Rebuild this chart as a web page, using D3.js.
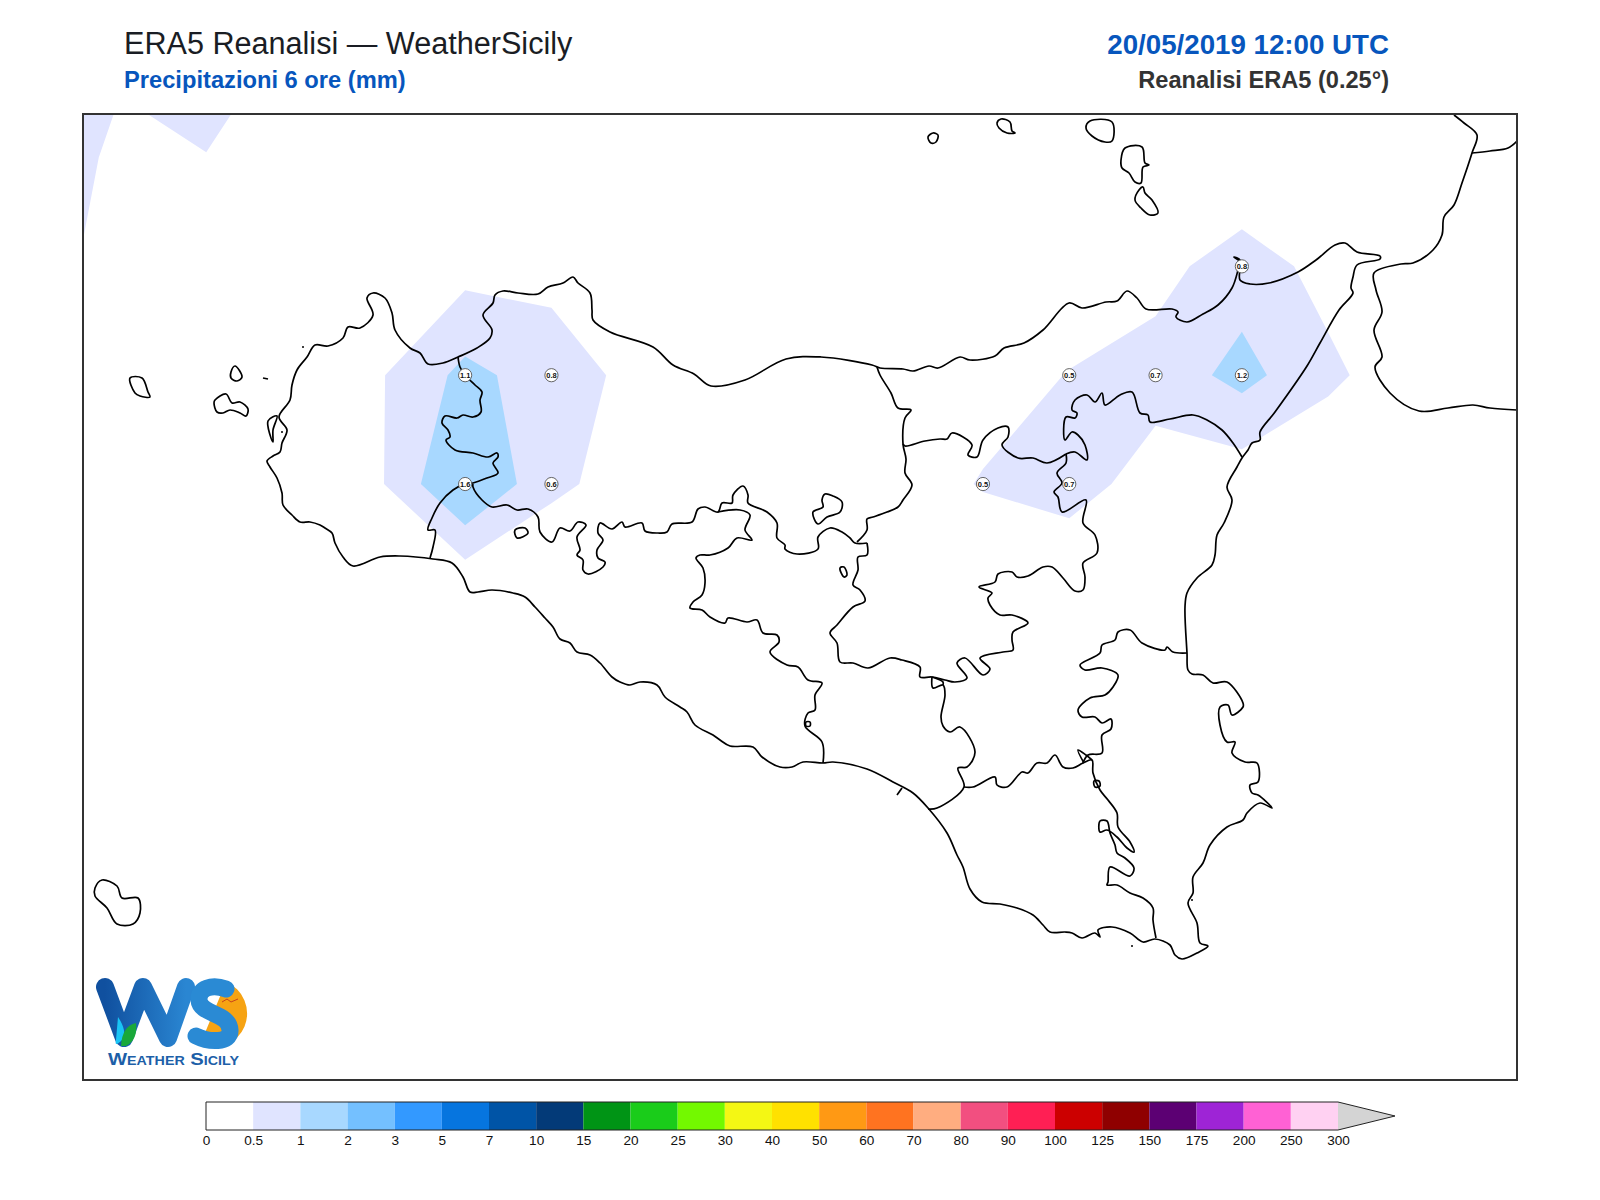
<!DOCTYPE html>
<html>
<head>
<meta charset="utf-8">
<script src="https://cdn.jsdelivr.net/npm/d3@7"></script>
<style>
  html, body { margin: 0; padding: 0; background: #fff; }
  svg { display: block; }
  text { font-family: "Liberation Sans", Arial, sans-serif; }
</style>
</head>
<body>
<script>
// ERA5 0.25 degree grid, 6h precipitation in mm
var gridLons = [11.75, 12, 12.25, 12.5, 12.75, 13, 13.25, 13.5, 13.75, 14, 14.25, 14.5, 14.75, 15, 15.25, 15.5, 15.75];
var gridLats = [38.75, 38.5, 38.25, 38, 37.75, 37.5];
var rain3875 = [0.9, 0.6, 0.9, 0.39, 0.1, 0.05, 0.05, 0, 0, 0, 0, 0, 0, 0, 0, 0, 0];
var rain3850 = [0.9, 0.37, 0.48, 0.2, 0.1, 0.1, 0.1, 0, 0, 0, 0, 0, 0, 0.05, 0, 0, 0];
var rain3825 = [0.7, 0.31, 0.2, 0.1, 0.2, 0.32, 0.34, 0.15, 0, 0, 0, 0.05, 0.15, 0.33, 0.76, 0.33, 0.1];
var rain3800 = [0.3, 0.2, 0.1, 0.1, 0.45, 1.14, 0.76, 0.35, 0.1, 0, 0.05, 0.25, 0.52, 0.7, 1.16, 0.61, 0.17];
var rain3775 = [0.1, 0.05, 0, 0, 0.43, 1.6, 0.6, 0.29, 0.05, 0, 0.17, 0.54, 0.72, 0.27, 0.19, 0.05, 0];
var rain3750 = [0, 0, 0, 0, 0.1, 0.02, 0.03, 0, 0, 0, 0, 0, 0.02, 0, 0, 0, 0];

// labelled land points
var labelLons = [13, 13.25, 13, 13.25, 15.25, 14.75, 15, 15.25, 14.5, 14.75];
var labelLats = [38, 38, 37.75, 37.75, 38.25, 38, 38, 38, 37.75, 37.75];
var labelVals = [1.1, 0.8, 1.6, 0.6, 0.8, 0.5, 0.7, 1.2, 0.5, 0.7];

// colour bar
var levels = ["0", "0.5", "1", "2", "3", "5", "7", "10", "15", "20", "25", "30", "40", "50", "60", "70", "80", "90", "100", "125", "150", "175", "200", "250", "300"];
var levelColors = ["#ffffff", "#e0e4ff", "#a8d8ff", "#74c0ff", "#3399ff", "#0675df", "#0054a6", "#033a78", "#009415", "#1acc1a", "#73f900", "#f4f714", "#ffe100", "#ff9914", "#ff7320", "#ffad80", "#f24f80", "#ff1f54", "#cc0000", "#8f0000", "#5c0073", "#9e24d6", "#ff61d4", "#ffd1f2"];
var overColor = "#d4d4d4";

// basemap outlines, digitised in basemap units
var coastSicily = [[353,566],[343,557],[335,543],[332,533],[325,528],[320,525],[310,522],[300,522],[292,515],[283,505],[282,493],[277,478],[270,467],[267,461],[273,456],[280,452],[282,443],[287,430],[279,417],[290,400],[292,385],[297,370],[307,357],[315,345],[328,346],[343,338],[348,327],[360,328],[373,315],[367,298],[373,293],[385,298],[392,313],[395,330],[410,348],[420,353],[428,364],[443,363],[458,357],[477,348],[490,338],[492,330],[483,315],[493,303],[495,295],[503,291],[518,293],[538,294],[548,287],[563,283],[573,277],[578,283],[590,293],[592,310],[593,320],[610,332],[653,347],[673,365],[694,374],[711,386],[745,380],[786,359],[821,357],[872,365],[880,368],[903,369],[913,371],[929,366],[938,368],[960,357],[970,360],[995,356],[1004,348],[1024,343],[1043,330],[1069,303],[1082,308],[1106,302],[1117,301],[1127,291],[1137,298],[1146,309],[1172,309],[1178,312],[1176,317],[1187,322],[1203,314],[1218,305],[1232,288],[1238,270],[1240,260],[1234,257],[1240,262],[1240,280],[1250,284],[1269,283],[1298,272],[1316,260],[1335,245],[1345,243],[1357,252],[1380,256],[1380,259],[1357,265],[1353,277],[1351,288],[1353,293],[1339,310],[1320,343],[1307,366],[1275,412],[1260,432],[1260,440],[1252,443],[1248,450],[1242,458],[1237,467],[1227,487],[1232,500],[1224,523],[1217,535],[1215,555],[1212,565],[1197,578],[1187,593],[1185,607],[1187,653],[1188,670],[1192,674],[1203,675],[1213,683],[1227,682],[1243,703],[1243,707],[1232,715],[1228,705],[1220,707],[1220,725],[1227,742],[1235,742],[1232,753],[1245,762],[1257,763],[1258,782],[1250,785],[1252,793],[1258,795],[1272,808],[1260,803],[1247,813],[1243,820],[1227,827],[1210,845],[1203,863],[1193,877],[1193,893],[1188,903],[1197,923],[1200,943],[1208,946],[1197,953],[1182,959],[1175,955],[1170,945],[1155,939],[1143,942],[1130,933],[1112,927],[1098,930],[1100,937],[1095,933],[1082,938],[1072,933],[1065,932],[1050,932],[1043,925],[1033,915],[1017,908],[1000,904],[982,902],[970,889],[963,867],[957,855],[947,833],[928,808],[913,793],[893,782],[867,769],[833,762],[823,763],[803,762],[792,767],[780,767],[762,757],[753,747],[730,746],[720,740],[713,735],[695,725],[687,712],[680,707],[665,697],[657,685],[640,682],[630,685],[620,682],[612,677],[600,663],[590,655],[577,652],[570,643],[560,639],[553,627],[545,618],[535,607],[525,597],[513,593],[492,590],[478,592],[470,592],[463,577],[452,563],[433,559],[400,556],[380,557],[353,566]];
var borderTrapaniPalermo = [[458,357],[460,367],[465,375],[475,385],[482,392],[480,400],[481,412],[473,417],[463,415],[457,418],[445,416],[442,423],[448,430],[450,437],[446,440],[455,450],[473,453],[488,457],[497,453],[498,457],[493,463],[498,473],[487,478],[473,483],[465,484],[453,490],[440,503],[432,518],[428,530],[435,530],[433,547],[430,558]];
var borderPalermoAgrigento = [[473,484],[473,487],[482,500],[492,507],[507,505],[517,510],[528,509],[538,517],[540,532],[552,542],[560,528],[570,531],[578,522],[586,525],[577,537],[580,550],[577,555],[583,560],[583,570],[588,574],[603,567],[605,562],[598,558],[597,550],[603,540],[598,533],[600,523],[612,529],[622,522],[625,527],[642,523],[645,531],[658,533],[667,532],[672,524],[692,522],[698,509],[705,507],[718,512],[722,503],[732,503],[733,495],[743,486],[748,495],[748,503],[767,512],[777,523],[777,538],[785,545],[785,549],[797,554],[818,549],[818,537],[830,528],[842,532],[850,538],[855,543],[867,543]];
var borderPalermoMessina = [[877,367],[880,375],[891,393],[898,408],[911,410],[905,418],[903,444],[906,459],[905,473],[912,485],[903,500],[898,507],[887,512],[873,517],[867,519],[867,530],[857,542]];
var borderEnnaWest = [[718,512],[740,510],[750,515],[745,530],[752,540],[737,538],[728,548],[710,555],[700,555],[696,558],[703,568],[705,583],[702,595],[693,602],[690,608],[702,610],[710,617],[725,623],[728,618],[747,622],[757,620],[763,633],[777,635],[779,642],[770,652],[787,665],[798,667],[808,680],[822,683],[815,695],[815,710],[808,713],[805,726],[822,742],[823,763]];
var borderEnnaSouth = [[867,543],[867,555],[858,557],[858,570],[853,585],[860,590],[865,601],[853,607],[837,625],[830,633],[837,643],[840,662],[853,663],[868,668],[890,658],[902,660],[920,667],[920,677],[932,677],[945,680],[955,682],[967,678],[957,663],[965,658],[983,675],[990,669],[980,658],[1003,652],[1013,650],[1012,640],[1013,632],[1028,623],[1012,615],[1000,615],[990,605],[988,598],[992,593],[979,587],[995,582],[998,574],[1012,572],[1017,577],[1028,576],[1043,567],[1052,567],[1063,578],[1075,591],[1083,590],[1085,577],[1083,563],[1097,553],[1095,535],[1083,523],[1086,500],[1062,512],[1058,497],[1054,492],[1062,483],[1057,473],[1066,463],[1066,454]];
var borderMessinaCatania = [[1066,454],[1075,452],[1087,460],[1085,445],[1078,435],[1072,432],[1065,440],[1066,417],[1075,418],[1077,413],[1072,410],[1075,400],[1087,395],[1095,402],[1102,393],[1105,405],[1120,395],[1132,392],[1140,413],[1148,415],[1150,422],[1170,419],[1193,415],[1207,420],[1222,430],[1233,443],[1242,457]];
var borderEnnaNorth = [[1066,454],[1047,463],[1033,458],[1018,458],[1002,445],[1008,437],[1008,427],[998,428],[983,440],[977,457],[968,455],[972,445],[952,433],[947,439],[940,439],[925,441],[905,446],[903,444]];
var borderCaltanissetta = [[932,677],[933,688],[943,685],[945,695],[941,717],[943,726],[950,732],[960,727],[975,752],[967,767],[958,768],[964,787],[937,808],[928,809]];
var borderEnnaTriangle = [[932,677],[943,682],[943,685]];
var borderRagusa = [[964,787],[973,787],[995,777],[997,785],[1007,787],[1022,772],[1028,773],[1037,763],[1047,763],[1055,755],[1063,767],[1073,768],[1083,763],[1092,760],[1093,773],[1100,790],[1108,800],[1117,813],[1118,827],[1130,842],[1134,852],[1127,848],[1117,837],[1107,830],[1100,832],[1100,821],[1107,821],[1110,833],[1115,845],[1117,853],[1125,858],[1134,868],[1130,876],[1110,867],[1108,882],[1107,885],[1117,885],[1130,893],[1143,898],[1153,908],[1153,920],[1156,938]];
var borderCataniaSouth = [[1187,653],[1173,652],[1167,647],[1165,650],[1142,643],[1130,630],[1118,632],[1115,640],[1102,645],[1100,653],[1080,665],[1085,670],[1102,668],[1118,675],[1113,687],[1105,695],[1090,698],[1078,710],[1082,717],[1095,717],[1102,723],[1111,719],[1111,729],[1102,735],[1102,753],[1088,755],[1083,763]];
var borderTriangle = [[1092,760],[1086,755],[1078,750],[1084,763]];
var shoreTick = [[897,795],[902,788]];
var marettimo = [[130,378],[142,378],[148,392],[150,397],[140,396],[135,393],[130,378]];
var favignana = [[215,400],[226,394],[232,403],[240,402],[248,409],[246,416],[240,413],[230,410],[223,413],[217,412],[214,403],[215,400]];
var levanzo = [[235,366],[242,377],[237,381],[231,378],[231,372],[235,366]];
var stagnone = [[268,421],[277,416],[273,430],[273,442],[268,421]];
var formica = [[263,378],[268,379]];
var alicudi = [[928,137],[933,133],[938,135],[936,142],[931,143],[928,137]];
var filicudi = [[997,123],[1001,119],[1010,122],[1012,131],[1015,133],[1007,133],[999,128],[997,123]];
var salina = [[1086,128],[1090,121],[1112,122],[1112,141],[1105,142],[1092,136],[1086,128]];
var lipari = [[1121,160],[1125,148],[1142,147],[1145,163],[1149,165],[1143,167],[1141,183],[1135,182],[1129,173],[1122,168],[1121,160]];
var vulcano = [[1139,190],[1143,187],[1145,193],[1152,200],[1158,213],[1150,215],[1141,208],[1135,200],[1139,190]];
var pantelleria = [[95,888],[102,880],[117,886],[122,898],[138,898],[140,913],[133,924],[117,924],[107,908],[95,896],[95,888]];
var lakeArancio = [[515,530],[525,528],[528,533],[517,538],[515,530]];
var lakePozzillo = [[840,568],[844,567],[847,575],[844,577],[840,568]];
var lakeNorth = [[825,494],[833,496],[842,502],[840,512],[827,517],[818,524],[813,512],[823,507],[822,500],[825,494]];
var lakeSouth = [[1094,781],[1099,781],[1100,786],[1095,787],[1094,781]];
var lakeWest = [[806,722],[810,722],[810,726],[806,726],[806,722]];
var calabriaSouth = [[1454,115],[1464,123],[1477,135],[1472,153],[1462,183],[1454,205],[1444,217],[1442,235],[1433,250],[1413,263],[1401,264],[1374,273],[1376,290],[1382,312],[1374,330],[1382,357],[1375,367],[1390,393],[1419,411],[1448,408],[1473,405],[1490,408],[1517,410]];
var calabriaNorth = [[1472,153],[1490,151],[1508,148],[1517,141]];
var outlines = [coastSicily, borderTrapaniPalermo, borderPalermoAgrigento, borderPalermoMessina, borderEnnaWest, borderEnnaSouth, borderMessinaCatania, borderEnnaNorth, borderCaltanissetta, borderEnnaTriangle, borderRagusa, borderCataniaSouth, borderTriangle, shoreTick, marettimo, favignana, levanzo, stagnone, formica, alicudi, filicudi, salina, lipari, vulcano, pantelleria, lakeArancio, lakePozzillo, lakeNorth, lakeSouth, lakeWest, calabriaSouth, calabriaNorth];
var tinyIslands = [[303,347],[282,432],[1132,946],[1192,900]];

var w = 1600;
var h = 1200;
var frame = { left: 83, right: 1517, top: 114, bottom: 1080 };

var svg = d3.select("body").append("svg").attr("width", w).attr("height", h);

// scales
var lonX = d3.scaleLinear().domain([11.893, 16.047]).range([frame.left, frame.right]);
var latY = d3.scaleLinear().domain([38.6, 36.381]).range([frame.top, frame.bottom]);
var mapX = d3.scaleLinear().domain([83, 1517]).range([frame.left, frame.right]);
var mapY = d3.scaleLinear().domain([114, 1080]).range([frame.top, frame.bottom]);
var levelNumbers = levels.map(Number);
var colorOf = d3.scaleThreshold().domain(levelNumbers.slice(1, -1)).range(levelColors);

svg.append("clipPath").attr("id", "mapClip").append("rect")
   .attr("x", frame.left).attr("y", frame.top)
   .attr("width", frame.right - frame.left).attr("height", frame.bottom - frame.top);

var map = svg.append("g").attr("clip-path", "url(#mapClip)");

// filled contours of the grid
var rainValues = [].concat(rain3875, rain3850, rain3825, rain3800, rain3775, rain3750);
var contours = d3.contours()
   .size([gridLons.length, gridLats.length])
   .smooth(true)
   .thresholds([0.5, 1])(rainValues);

// contour coords: grid cell i has its centre at i + 0.5
var gridPath = d3.geoPath(d3.geoTransform({
  point: function(cx, cy) {
    var lon = gridLons[0] + (cx - 0.5) * (gridLons[1] - gridLons[0]);
    var lat = gridLats[0] + (cy - 0.5) * (gridLats[1] - gridLats[0]);
    this.stream.point(lonX(lon), latY(lat));
  }
}));

map.selectAll("path.rain")
   .data(contours)
   .enter()
   .append("path")
   .attr("class", "rain")
   .attr("d", gridPath)
   .attr("fill", function(d) { return colorOf(d.value); })
   .attr("stroke", "none");

// coast and province borders, closed rings get a closed curve
var openLine = d3.line()
   .x(function(d) { return mapX(d[0]); })
   .y(function(d) { return mapY(d[1]); })
   .curve(d3.curveCatmullRom.alpha(0.5));
var ringLine = d3.line()
   .x(function(d) { return mapX(d[0]); })
   .y(function(d) { return mapY(d[1]); })
   .curve(d3.curveCatmullRomClosed.alpha(0.5));

map.selectAll("path.outline")
   .data(outlines)
   .enter()
   .append("path")
   .attr("class", "outline")
   .attr("d", function(d) {
     var a = d[0], b = d[d.length - 1];
     if (a[0] == b[0] && a[1] == b[1]) return ringLine(d.slice(1));
     return openLine(d);
   })
   .attr("fill", "none")
   .attr("stroke", "#000")
   .attr("stroke-width", 1.7)
   .attr("stroke-linejoin", "round");

map.selectAll("circle.tiny")
   .data(tinyIslands)
   .enter()
   .append("circle")
   .attr("class", "tiny")
   .attr("cx", function(d) { return mapX(d[0]); })
   .attr("cy", function(d) { return mapY(d[1]); })
   .attr("r", 1)
   .attr("fill", "#000");

// value labels
var labels = map.selectAll("g.label")
   .data(labelVals)
   .enter()
   .append("g")
   .attr("class", "label")
   .attr("transform", function(d, i) {
     return "translate(" + lonX(labelLons[i]) + "," + latY(labelLats[i]) + ")";
   });
labels.append("circle")
   .attr("r", 6.6)
   .attr("fill", "#fff")
   .attr("stroke", "#555")
   .attr("stroke-width", 0.9);
labels.append("text")
   .attr("text-anchor", "middle")
   .attr("y", 2.6)
   .attr("font-size", 7.5)
   .attr("font-weight", "bold")
   .attr("fill", "#111")
   .text(function(d) { return d.toFixed(1); });

// frame
svg.append("rect")
   .attr("x", frame.left).attr("y", frame.top)
   .attr("width", frame.right - frame.left).attr("height", frame.bottom - frame.top)
   .attr("fill", "none")
   .attr("stroke", "#333")
   .attr("stroke-width", 2);

// titles
svg.append("text").attr("x", 124).attr("y", 54).attr("font-size", 30.6).attr("fill", "#1a1d24")
   .text("ERA5 Reanalisi — WeatherSicily");
svg.append("text").attr("x", 124).attr("y", 88).attr("font-size", 23.7).attr("font-weight", "bold").attr("fill", "#0756bd")
   .text("Precipitazioni 6 ore (mm)");
svg.append("text").attr("x", 1389).attr("y", 54).attr("text-anchor", "end").attr("font-size", 27.7).attr("font-weight", "bold").attr("fill", "#0756bd")
   .text("20/05/2019 12:00 UTC");
svg.append("text").attr("x", 1389).attr("y", 88).attr("text-anchor", "end").attr("font-size", 23.6).attr("font-weight", "bold").attr("fill", "#333")
   .text("Reanalisi ERA5 (0.25°)");

// colour bar
var barTop = 1102;
var barBottom = 1130;
var barX = d3.scalePoint().domain(levels).range([206, 1338]);
var arrowTip = 1395;
var bar = svg.append("g");

bar.selectAll("rect")
   .data(levelColors)
   .enter()
   .append("rect")
   .attr("x", function(d, i) { return barX(levels[i]); })
   .attr("y", barTop)
   .attr("width", function(d, i) { return barX(levels[i + 1]) - barX(levels[i]); })
   .attr("height", barBottom - barTop)
   .attr("fill", function(d) { return d; });

var last = barX(levels[levels.length - 1]);
bar.append("path")
   .attr("d", "M" + last + "," + barTop + "L" + arrowTip + "," + (barTop + barBottom) / 2 + "L" + last + "," + barBottom + "Z")
   .attr("fill", overColor);
bar.append("path")
   .attr("d", "M" + barX(levels[0]) + "," + barTop + "H" + last + "L" + arrowTip + "," + (barTop + barBottom) / 2 + "L" + last + "," + barBottom + "H" + barX(levels[0]) + "Z")
   .attr("fill", "none")
   .attr("stroke", "#222")
   .attr("stroke-width", 1);

var barAxis = svg.append("g")
   .attr("transform", "translate(0," + barBottom + ")")
   .call(d3.axisBottom(barX).tickSize(0).tickPadding(5));
barAxis.select(".domain").remove();
barAxis.selectAll("text")
   .attr("font-family", "Liberation Sans")
   .attr("font-size", 13.6)
   .attr("fill", "#111");

// logo
var logo = svg.append("g");
var logoGrad = svg.append("linearGradient").attr("id", "logoW");
logoGrad.append("stop").attr("offset", "0").attr("stop-color", "#10509f");
logoGrad.append("stop").attr("offset", "1").attr("stop-color", "#2a86d2");
logo.append("path")
   .attr("d", "M226,982 A33,33 0 1 1 200,1045 Z")
   .attr("fill", "#f6a313");
logo.append("path")
   .attr("d", "M105,987 L124,1038 L143,987 L168,1038 L186,987")
   .attr("fill", "none")
   .attr("stroke", "url(#logoW)")
   .attr("stroke-width", 18)
   .attr("stroke-linecap", "round")
   .attr("stroke-linejoin", "round");
logo.append("path")
   .attr("d", "M226,989 C212,984 198,988 199,1000 C200,1015 229,1012 230,1030 C231,1044 208,1042 196,1036")
   .attr("fill", "none")
   .attr("stroke", "#2a8ad4")
   .attr("stroke-width", 17)
   .attr("stroke-linecap", "round");
logo.append("path")
   .attr("d", "M118,1017 Q128,1032 122,1040 Q114,1048 116,1040 Z")
   .attr("fill", "#19c4f5");
logo.append("path")
   .attr("d", "M121,1046 Q122,1026 136,1023 Q138,1040 126,1046 Z")
   .attr("fill", "#19a83a");
logo.append("path")
   .attr("d", "M222,1002 L227,999 L231,1002 L238,999")
   .attr("fill", "none")
   .attr("stroke", "#c8431a")
   .attr("stroke-width", 1);
logo.append("text")
   .attr("x", 108).attr("y", 1065)
   .attr("font-size", 17)
   .attr("font-weight", "bold")
   .attr("font-variant", "small-caps")
   .attr("textLength", 131)
   .attr("lengthAdjust", "spacingAndGlyphs")
   .attr("fill", "#1d5fa8")
   .text("Weather Sicily");
</script>
</body>
</html>
